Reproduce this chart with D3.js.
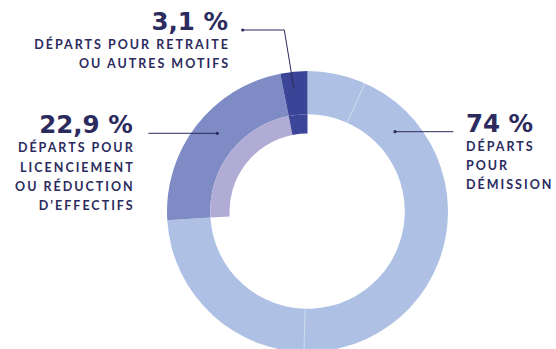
<!DOCTYPE html>
<html lang="fr">
<head>
<meta charset="utf-8">
<script src="https://cdn.jsdelivr.net/npm/d3@7"></script>
<style>
  html, body { margin: 0; padding: 0; background: #ffffff; }
  svg { display: block; }
  .pct { font-family: "DejaVu Sans", Lato, sans-serif; font-weight: 700; font-size: 24.5px; fill: #2c2b5e; }
  .lbl { font-family: Lato, "Open Sans", sans-serif; font-weight: 700; font-size: 12.5px; fill: #2c2b5e; letter-spacing: 2px; }
</style>
</head>
<body>
<svg id="chart" width="556" height="349"></svg>
<script>
// Répartition des départs (en %)
const categories = ["Démission", "Licenciement ou réduction d'effectifs", "Retraite ou autres motifs"];
const values = [74, 22.9, 3.1];
const valueLabels = ["74 %", "22,9 %", "3,1 %"];
const labelLines = [
  ["DÉPARTS", "POUR", "DÉMISSION"],
  ["DÉPARTS POUR", "LICENCIEMENT", "OU RÉDUCTION", "D’EFFECTIFS"],
  ["DÉPARTS POUR RETRAITE", "OU AUTRES MOTIFS"]
];
// Sous-parts du segment « démission » (fines jointures visibles dans l'anneau)
const demissionParts = [6.7, 43.7, 23.6];

const outerColors = ["#aec0e3", "#7f8bc4", "#3a4597"];
const innerColors = [null, "#b0acd6", "#3b4699"];

const svg = d3.select("#chart");
const cx = 307.5, cy = 211.5;
const rOuter = 140.5, rMid = 97.3, rInner = 78;

const g = svg.append("g").attr("transform", `translate(${cx},${cy})`);

const pie = d3.pie().sort(null).value(d => d);
const slices = pie(values);

const arcOuter = d3.arc().innerRadius(rMid).outerRadius(rOuter);
const arcInner = d3.arc().innerRadius(rInner).outerRadius(rMid);

// Anneau principal
g.selectAll("path.outer")
  .data(slices)
  .join("path")
  .attr("class", "outer")
  .attr("d", arcOuter)
  .attr("fill", (d, i) => outerColors[i]);

// Bande intérieure pour les départs non liés à une démission
g.selectAll("path.inner")
  .data(slices.filter((d, i) => innerColors[i]))
  .join("path")
  .attr("class", "inner")
  .attr("d", arcInner)
  .attr("fill", d => innerColors[d.index]);

// Jointures internes du segment « démission »
const partAngle = d3.scaleLinear().domain([0, 100]).range([0, 2 * Math.PI]);
const seams = d3.cumsum(demissionParts).slice(0, -1);
g.selectAll("line.seam")
  .data(seams)
  .join("line")
  .attr("class", "seam")
  .attr("x1", v => rMid * Math.sin(partAngle(v)))
  .attr("y1", v => -rMid * Math.cos(partAngle(v)))
  .attr("x2", v => rOuter * Math.sin(partAngle(v)))
  .attr("y2", v => -rOuter * Math.cos(partAngle(v)))
  .attr("stroke", "#dfe6f5")
  .attr("stroke-width", 0.7);

// Étiquettes et lignes de rappel
const ink = "#2c2b5e";
const labels = [
  { x: 466, y: 131.7, anchor: "start", lead: [[395, 131.7], [453.5, 131.7]], dotAt: 0 },
  { x: 132.7, y: 133.3, anchor: "end", lead: [[148.3, 133.3], [217.3, 133.3]], dotAt: 1 },
  { x: 228, y: 29.5, anchor: "end", lead: [[242.7, 30], [284.3, 30], [294, 89]], dotAt: 0 }
];
const lineGap = [19.2, 19.3, 19.3];

labels.forEach((L, i) => {
  svg.append("path")
    .attr("d", d3.line()(L.lead))
    .attr("fill", "none")
    .attr("stroke", ink)
    .attr("stroke-width", 1);
  svg.append("circle")
    .attr("cx", L.lead[L.dotAt][0])
    .attr("cy", L.lead[L.dotAt][1])
    .attr("r", 1.6)
    .attr("fill", ink);

  svg.append("text")
    .attr("class", "pct")
    .attr("x", L.x)
    .attr("y", L.y)
    .attr("text-anchor", L.anchor)
    .text(valueLabels[i]);

  labelLines[i].forEach((t, k) => {
    svg.append("text")
      .attr("class", "lbl")
      .attr("x", L.anchor === "end" ? L.x + 2 : L.x)
      .attr("y", L.y + 19 + k * lineGap[i])
      .attr("text-anchor", L.anchor)
      .text(t);
  });
});
</script>
</body>
</html>
